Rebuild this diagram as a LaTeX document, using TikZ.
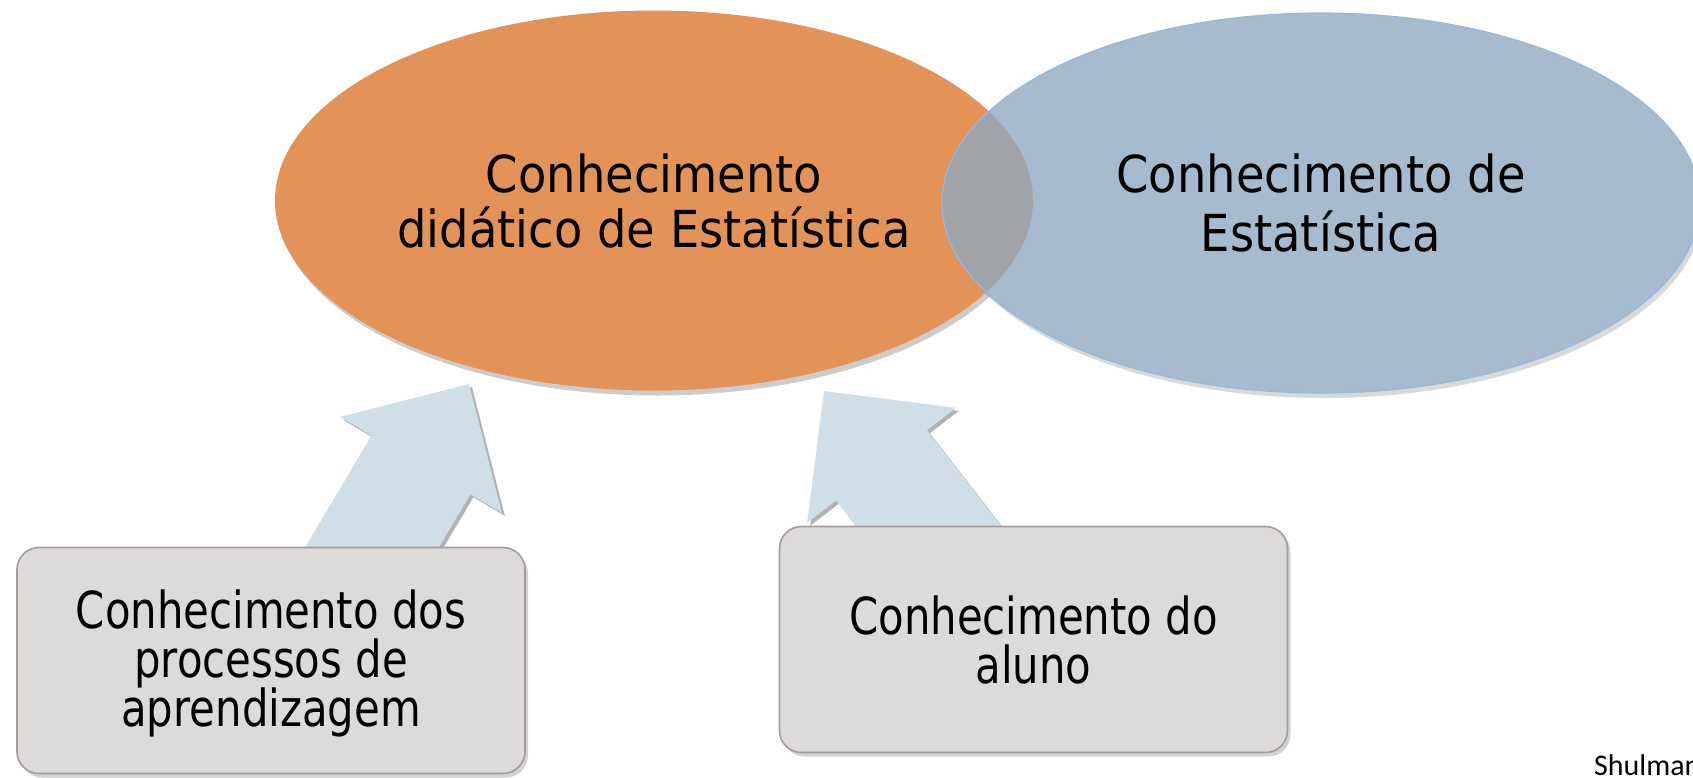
\documentclass[tikz,border=0pt]{standalone}
\usepackage{fontspec}
\setmainfont{DejaVu Sans}
\newfontfamily\ovalfont[FakeStretch=0.91]{DejaVu Sans}
\newfontfamily\boxfont[FakeStretch=0.82]{DejaVu Sans}
\newfontfamily\notefont{Carlito}
\usetikzlibrary{shapes.geometric,shadows}
\lineskiplimit=-\maxdimen
\begin{document}
\begin{tikzpicture}[x=1pt,y=-1pt,
  oval/.style={ellipse,minimum width=758pt,minimum height=380pt,inner sep=0pt,align=center,font=\ovalfont\fontsize{51}{55}\selectfont},
  topic/.style={rectangle,rounded corners=22pt,minimum width=508pt,minimum height=226pt,fill=c5,draw=c6,line width=1.6pt,align=center,font=\boxfont\fontsize{51}{49}\selectfont,drop shadow={opacity=0.35,shadow xshift=3pt,shadow yshift=-4pt}},
  pointer/.style={fill=c4,drop shadow={opacity=0.6,shadow xshift=3pt,shadow yshift=-3pt}}]
\definecolor{c1}{RGB}{227,146,88}
\definecolor{c2}{RGB}{166,187,205}
\definecolor{c3}{RGB}{150,184,218}
\definecolor{c4}{RGB}{208,222,232}
\definecolor{c5}{RGB}{221,219,217}
\definecolor{c6}{RGB}{165,155,155}
\definecolor{c7}{RGB}{160,164,168}
\useasboundingbox (0,0) rectangle (1693,777);
% the two ovals
\node[oval,fill=c1,drop shadow={opacity=0.4,shadow xshift=3pt,shadow yshift=-5pt}] (didatico) at (654,200.5) {Conhecimento\\didático de Estatística};
\node[oval,fill=c2,draw=c3,line width=1.2pt,drop shadow={opacity=0.3,shadow xshift=3pt,shadow yshift=-5pt},font=\ovalfont\fontsize{51}{59}\selectfont] (estatistica) at (1321,203) {Conhecimento de\\Estatística};
\begin{scope}
\clip (didatico.center) ellipse (379 and 190);
\fill[c7,draw=c3,line width=1.2pt] (estatistica.center) ellipse (379 and 190);
\end{scope}
% block arrows
\coordinate (tipA) at (469,384);
\coordinate (tipB) at (824,391);
\fill[pointer,shift={(tipA)},rotate=59.3] (0,0) -- (-94,94) -- (-94,57.5) -- (-260,57.5) -- (-260,-57.5) -- (-94,-57.5) -- (-94,-94) -- cycle;
\fill[pointer,shift={(tipB)},rotate=127.7] (0,0) -- (-94,94) -- (-94,57.5) -- (-260,57.5) -- (-260,-57.5) -- (-94,-57.5) -- (-94,-94) -- cycle;
% boxes
\node[topic,text depth=4pt] (processos) at (271,660.5) {Conhecimento dos\\processos de\\aprendizagem};
\node[topic] (aluno) at (1033.5,639.5) {Conhecimento do\\aluno};
\node[anchor=base west,inner sep=0pt,font=\notefont\fontsize{30}{36}\selectfont] (fonte) at (1594,775) {Shulman};
\end{tikzpicture}
\end{document}
